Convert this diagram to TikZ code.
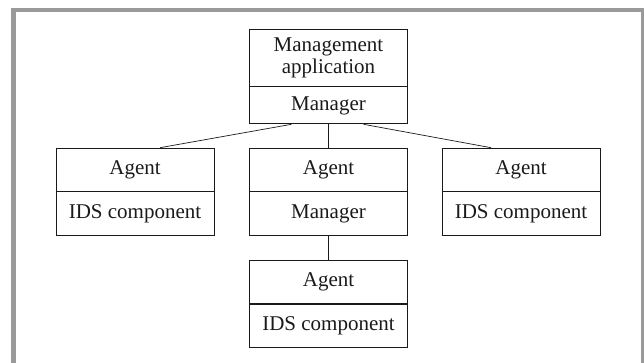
\documentclass[tikz,border=0pt]{standalone}
\usepackage{fontspec}
\setmainfont{Liberation Serif}
\usetikzlibrary{calc}
\definecolor{framegray}{HTML}{9A9A9A}
\definecolor{ink}{HTML}{1A1A1A}
\tikzset{
  cell/.style={draw=ink, line width=0.8pt, minimum width=158pt, inner sep=0pt,
    font=\fontsize{21}{22}\selectfont, text=ink, align=center, anchor=north},
  link/.style={draw=ink, line width=0.7pt},
}
\begin{document}
\begin{tikzpicture}[x=1pt, y=-1pt]
  \useasboundingbox (0,0) rectangle (644,363);
  \begin{scope}
    \clip (0,0) rectangle (644,363);
    % outer frame (open at the bottom)
    \draw[framegray, line width=4.5pt] (13.5,370) -- (13.5,10) -- (643.5,10) -- (643.5,370);
  \end{scope}

  % top: management station
  \node[cell, minimum height=56.7pt] (tapp) at (328.5,29) {Management\\application};
  \node[cell, minimum height=37pt] (tmgr) at (tapp.south) {Manager};

  % left agent
  \node[cell, minimum height=43pt] (lag) at (135,147.7) {Agent};
  \node[cell, minimum height=43.6pt] (lids) at (lag.south) {IDS component};

  % middle agent acting as manager
  \node[cell, minimum height=43pt] (mag) at (328.5,147.7) {Agent};
  \node[cell, minimum height=43.6pt] (mmgr) at (mag.south) {Manager};

  % right agent
  \node[cell, minimum height=43pt] (rag) at (521,147.7) {Agent};
  \node[cell, minimum height=43.6pt] (rids) at (rag.south) {IDS component};

  % bottom agent
  \node[cell, minimum height=43pt] (bag) at (328.5,260.1) {Agent};
  \node[cell, minimum height=43pt] (bids) at (bag.south) {IDS component};

  % connectors
  \draw[link] ($(tmgr.south)+(-37,0)$) -- ($(lag.north)+(25,0)$);
  \draw[link] (tmgr.south) -- (mag.north);
  \draw[link] ($(tmgr.south)+(35,0)$) -- ($(rag.north)+(-30,0)$);
  \draw[link] (mmgr.south) -- (bag.north);
\end{tikzpicture}
\end{document}
